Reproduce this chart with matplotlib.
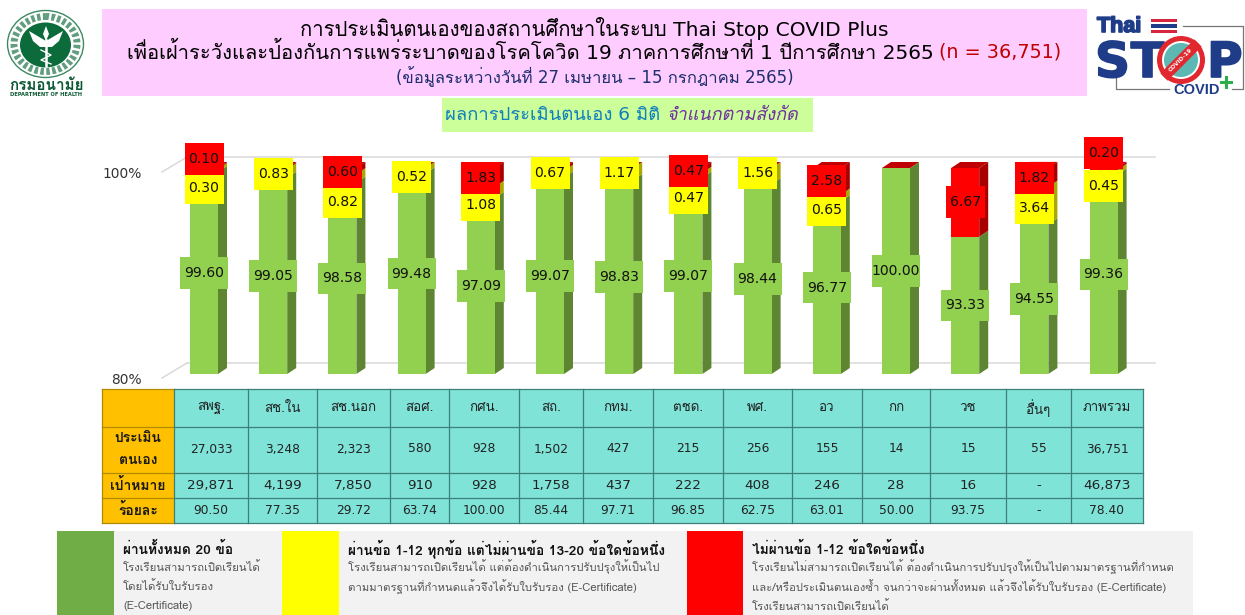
import matplotlib
matplotlib.use('Agg')
import matplotlib.pyplot as plt
import matplotlib.patheffects as pe
from matplotlib.patches import Rectangle, Polygon, Circle, Ellipse
from matplotlib.transforms import Affine2D

FONT = ['DejaVu Sans', 'Loma', 'Noto Sans']
plt.rcParams['font.family'] = FONT

# ---------- data ----------
categories = ['สพฐ.', 'สช.ใน', 'สช.นอก', 'สอศ.', 'กศน.', 'สถ.', 'กทม.', 'ตชด.', 'พศ.', 'อว', 'กก', 'วช', 'อื่นๆ', 'ภาพรวม']
green_values = [99.60, 99.05, 98.58, 99.48, 97.09, 99.07, 98.83, 99.07, 98.44, 96.77, 100.00, 93.33, 94.55, 99.36]
yellow_values = [0.30, 0.83, 0.82, 0.52, 1.08, 0.67, 1.17, 0.47, 1.56, 0.65, 0.00, 0.00, 3.64, 0.45]
red_values = [0.10, 0.12, 0.60, 0.00, 1.83, 0.26, 0.00, 0.47, 0.00, 2.58, 0.00, 6.67, 1.82, 0.20]
red_labelled = [True, False, True, False, True, False, False, True, False, True, False, True, True, True]
assessed = ['27,033', '3,248', '2,323', '580', '928', '1,502', '427', '215', '256', '155', '14', '15', '55', '36,751']
targets = ['29,871', '4,199', '7,850', '910', '928', '1,758', '437', '222', '408', '246', '28', '16', '-', '46,873']
percents = ['90.50', '77.35', '29.72', '63.74', '100.00', '85.44', '97.71', '96.85', '62.75', '63.01', '50.00', '93.75', '-', '78.40']
row_titles = [['ประเมิน', 'ตนเอง'], ['เป้าหมาย'], ['ร้อยละ']]
y_ticks = [80, 100]

# ---------- layout (pixels) ----------
W, H = 1245, 615
fig = plt.figure(figsize=(W / 100, H / 100), dpi=100, facecolor='white')
bg = fig.add_axes([0, 0, 1, 1], zorder=0)
bg.set_xlim(0, W); bg.set_ylim(H, 0); bg.axis('off')

def rect(a, x0, y0, x1, y1, **kw):
    kw.setdefault('lw', 0)
    a.add_patch(Rectangle((x0, y0), x1 - x0, y1 - y0, **kw))

def t(x, y, s, size=10, color='black', ha='center', va='center', a=bg, **kw):
    return a.text(x, y, s, fontsize=size, color=color, ha=ha, va=va, **kw)

NAVY = '#1F2F6E'
# ----- header panels -----
rect(bg, 102, 9, 1087, 96, fc='#FFCCFF')
t(594, 29, 'การประเมินตนเองของสถานศึกษาในระบบ Thai Stop COVID Plus', 14.6)
t(934, 52, 'เพื่อเฝ้าระวังและป้องกันการแพร่ระบาดของโรคโควิด 19 ภาคการศึกษาที่ 1 ปีการศึกษา 2565', 14.5, ha='right')
t(939, 52, '(n = 36,751)', 13.8, color='#C00000', ha='left')
t(595, 77, '(ข้อมูลระหว่างวันที่ 27 เมษายน – 15 กรกฎาคม 2565)', 12, color=NAVY)
rect(bg, 442, 98, 813, 132, fc='#CCFF99')
t(660, 115, 'ผลการประเมินตนเอง 6 มิติ', 13.3, color='#0F7FC0', ha='right')
t(666, 115, 'จำแนกตามสังกัด', 13, color='#7030A0', ha='left', style='italic', family=['Loma', 'DejaVu Sans'])

# ----- department logo -----
DG = '#0B6B3A'
bg.add_patch(Ellipse((45.5, 44), 76, 67, fc='white', ec='#3C8A62', lw=1.0))
bg.add_patch(Ellipse((45.5, 44), 63, 55, fc='none', ec='#2E7D55', lw=5, ls=(0, (0.5, 0.35)), alpha=0.75))
bg.add_patch(Ellipse((45.5, 45), 51, 45, fc=DG, ec='none'))
bg.add_patch(Polygon([(46, 41), (29, 31), (33, 41), (40, 47), (46, 47)], fc='white', lw=0))
bg.add_patch(Polygon([(46, 41), (63, 31), (59, 41), (52, 47), (46, 47)], fc='white', lw=0))
bg.add_patch(Polygon([(46, 26), (49, 34), (46, 41), (43, 34)], fc='white', lw=0))
bg.plot([46, 46], [40, 66], color='white', lw=1.8)
bg.plot([41, 51, 41, 51], [50, 55, 60, 64], color='white', lw=1.0)
t(46, 86, 'กรมอนามัย', 11, color='#0B5A33', weight='bold', family=['Loma', 'DejaVu Sans'])
t(46, 95, 'DEPARTMENT OF HEALTH', 3.7, color='#0B5A33', weight='bold')

# ----- campaign logo -----
LOGO = '#1F3C88'
heavy = [pe.withStroke(linewidth=1.2, foreground=LOGO)]
bg.plot([1183, 1243, 1243, 1232], [26, 26, 89, 89], color='#777777', lw=0.9)
bg.plot([1116, 1116, 1169], [77, 89, 89], color='#777777', lw=0.9)
t(1097, 32, 'Thai', 15.5, color=LOGO, ha='left', va='baseline', weight='bold', family='Liberation Sans', path_effects=heavy)
for y0, y1, col in [(19, 22, '#D7263D'), (24, 28, LOGO), (30, 33, '#D7263D')]:
    rect(bg, 1151, y0, 1177, y1, fc=col)
for x, letter in [(1095, 'S'), (1131, 'T'), (1207, 'P')]:
    t(x, 77, letter, 35, color=LOGO, ha='left', va='baseline', weight='bold',
      family='Liberation Sans Narrow', path_effects=heavy)
bg.add_patch(Circle((1181, 60), 24, fc='#E0282E', ec='none', zorder=3))
bg.add_patch(Circle((1181, 60), 19, fc='white', ec='none', zorder=3.5))
bg.add_patch(Circle((1181, 60), 17, fc='#5BB8B2', ec='none', zorder=4))
bg.plot([1164, 1198], [77, 43], color='#E0282E', lw=7.5, zorder=5, solid_capstyle='butt')
t(1181, 60, 'COVID-19', 4.2, color='white', weight='bold', rotation=45, zorder=6)
t(1173, 94, 'COVID', 10.5, color=LOGO, ha='left', va='baseline', weight='bold', family='Liberation Sans')
bg.plot([1221, 1231], [82, 82], color='#2EAE4A', lw=2.2)
bg.plot([1226, 1226], [77, 87], color='#2EAE4A', lw=2.2)

# ----- chart (percent axis, front plane of the bars) -----
PX_LEFT, PX_RIGHT = 145, 1160
PX_Y80, PX_Y100 = 374, 168
X0, DX = 204, 69.2
ax = fig.add_axes([PX_LEFT / W, 1 - PX_Y80 / H, (PX_RIGHT - PX_LEFT) / W, (PX_Y80 - PX_Y100) / H], zorder=2)
ax.patch.set_alpha(0)
ax.set_xlim((PX_LEFT - X0) / DX, (PX_RIGHT - X0) / DX)
ax.set_ylim(80, 100)
for s in ax.spines.values():
    s.set_visible(False)
ax.set_xticks([])
ax.set_yticks(y_ticks, [f'{v}%' for v in y_ticks], fontsize=9.9, color='#333333')
ax.tick_params(axis='y', length=0, pad=2)
for lab in ax.get_yticklabels():
    lab.set_transform(lab.get_transform() + Affine2D().translate(0, -4))

UNIT_Y = (PX_Y80 - PX_Y100) / 20
wall = ax.transData + Affine2D().translate(41, 11)
xa = (187 - 41 - X0) / DX
xb = (1155 - 41 - X0) / DX
for v in y_ticks:
    ax.plot([xa, xb], [v, v], color='#D9D9D9', lw=1.1, transform=wall, clip_on=False, zorder=1)
    ax.plot([(162 - X0) / DX, (187 - X0) / DX], [v - 4 / UNIT_Y, v + 11 / UNIT_Y], color='#D9D9D9', lw=1.1,
            clip_on=False, zorder=1)

BAR_W = 28 / DX
DEPTH_X, DEPTH_Y = 9 / DX, 6 / UNIT_Y
FRONT = {'g': '#92D050', 'y': '#FFFF00', 'r': '#FF0000'}
SIDE = {'g': '#5E8532', 'y': '#A8A800', 'r': '#A80000'}
TOP_FACE = '#C00000'

for i in range(len(categories)):
    base = 80.0
    stack = [('g', green_values[i] - 80), ('y', yellow_values[i]), ('r', red_values[i])]
    for key, h in stack:
        if h <= 0:
            continue
        ax.bar(i, h, bottom=base, width=BAR_W, color=FRONT[key], clip_on=False, zorder=3, lw=0)
        xr = i + BAR_W / 2
        ax.add_patch(Polygon([(xr, base), (xr + DEPTH_X, base + DEPTH_Y), (xr + DEPTH_X, base + h + DEPTH_Y), (xr, base + h)],
                             fc=SIDE[key], lw=0, clip_on=False, zorder=2.5))
        base += h
    xl = i - BAR_W / 2
    ax.add_patch(Polygon([(xl, base), (xl + DEPTH_X, base + DEPTH_Y), (xl + BAR_W + DEPTH_X, base + DEPTH_Y), (xl + BAR_W, base)],
                         fc=TOP_FACE, lw=0, clip_on=False, zorder=2.5))

# data-label placement, pixel centres of the label boxes
red_label_px = [159, None, 172, None, 178, None, None, 171, None, 181, None, 202, 178, 153]
yellow_label_px = [188, 174, 202, 177, 205, 173, 173, 198, 173, 210, None, None, 208, 186]

def label(i, y_val, val, fc, w_px):
    w, h = w_px / DX, 31.5 / UNIT_Y
    ax.add_patch(Rectangle((i - w / 2, y_val - h / 2), w, h, fc=fc, lw=0, clip_on=False, zorder=4))
    ax.text(i, y_val, f'{val:.2f}', fontsize=10.1, color='#111111', ha='center', va='center', zorder=5, clip_on=False)

def from_px(py):
    return 80 + (PX_Y80 - py) / UNIT_Y

for i in range(len(categories)):
    label(i, (80 + green_values[i]) / 2, green_values[i], FRONT['g'], 48)
    if yellow_label_px[i] is not None:
        label(i, from_px(yellow_label_px[i]), yellow_values[i], FRONT['y'], 39)
    if red_labelled[i]:
        label(i, from_px(red_label_px[i]), red_values[i], FRONT['r'], 39)

# ----- table -----
col_edges = [102, 174, 248, 317, 390, 449, 519, 583, 653, 723, 792, 862, 930, 1006, 1071, 1143]
row_edges = [389, 427, 473, 498, 523]
TEAL = '#7FE3D8'
ORANGE = '#FFC000'
rect(bg, col_edges[0], row_edges[0], col_edges[1], row_edges[-1], fc=ORANGE)
rect(bg, col_edges[1], row_edges[0], col_edges[-1], row_edges[-1], fc=TEAL)
LINE = '#3E7F78'
for x in col_edges:
    bg.plot([x, x], [row_edges[0], row_edges[-1]], color='#B08A00' if x == col_edges[0] else LINE, lw=0.9)
for y in row_edges:
    bg.plot([col_edges[0], col_edges[1]], [y, y], color='#B08A00', lw=0.9)
    bg.plot([col_edges[1], col_edges[-1]], [y, y], color=LINE, lw=0.9)
row_mid = [(row_edges[k] + row_edges[k + 1]) / 2 for k in range(4)]
for j, cat in enumerate(categories):
    cx = (col_edges[j + 1] + col_edges[j + 2]) / 2
    t(cx, row_mid[0], cat, 9.6, color='#222222', family=['Loma', 'DejaVu Sans'])
    t(cx, row_mid[1] - 1, assessed[j], 8.8, color='#222222')
    t(cx, row_mid[2], targets[j], 9.7, color='#222222')
    t(cx, row_mid[3], percents[j], 8.8, color='#222222')
ox = (col_edges[0] + col_edges[1]) / 2
BF = ['Loma', 'DejaVu Sans']
t(ox, row_mid[1] - 11, row_titles[0][0], 10, weight='bold', family=BF, color='#1a1a1a')
t(ox, row_mid[1] + 11, row_titles[0][1], 10, weight='bold', family=BF, color='#1a1a1a')
t(ox, row_mid[2], row_titles[1][0], 10, weight='bold', family=BF, color='#1a1a1a')
t(ox, row_mid[3], row_titles[2][0], 10, weight='bold', family=BF, color='#1a1a1a')

# ----- legend -----
rect(bg, 57, 531, 1193, 615, fc='#F2F2F2')
rect(bg, 57, 531, 114, 615, fc='#70AD47')
rect(bg, 282, 531, 339, 615, fc='#FFFF00')
rect(bg, 687, 531, 743, 615, fc='#FF0000')
def legend_block(x, head, lines):
    t(x, 549, head, 9.9, ha='left', weight='bold', family=BF, color='#111111')
    for k, s in enumerate(lines):
        t(x, 567 + k * 19.5, s, 8.15, ha='left', family=BF, color='#555555')
legend_block(123, 'ผ่านทั้งหมด 20 ข้อ', ['โรงเรียนสามารถเปิดเรียนได้', 'โดยได้รับใบรับรอง', '(E-Certificate)'])
legend_block(348, 'ผ่านข้อ 1-12 ทุกข้อ แต่ไม่ผ่านข้อ 13-20 ข้อใดข้อหนึ่ง',
             ['โรงเรียนสามารถเปิดเรียนได้ แต่ต้องดำเนินการปรับปรุงให้เป็นไป', 'ตามมาตรฐานที่กำหนดแล้วจึงได้รับใบรับรอง (E-Certificate)'])
legend_block(752, 'ไม่ผ่านข้อ 1-12 ข้อใดข้อหนึ่ง',
             ['โรงเรียนไม่สามารถเปิดเรียนได้ ต้องดำเนินการปรับปรุงให้เป็นไปตามมาตรฐานที่กำหนด',
              'และ/หรือประเมินตนเองซ้ำ จนกว่าจะผ่านทั้งหมด แล้วจึงได้รับใบรับรอง (E-Certificate)',
              'โรงเรียนสามารถเปิดเรียนได้'])

fig.savefig('out.png', dpi=100, facecolor='white')
